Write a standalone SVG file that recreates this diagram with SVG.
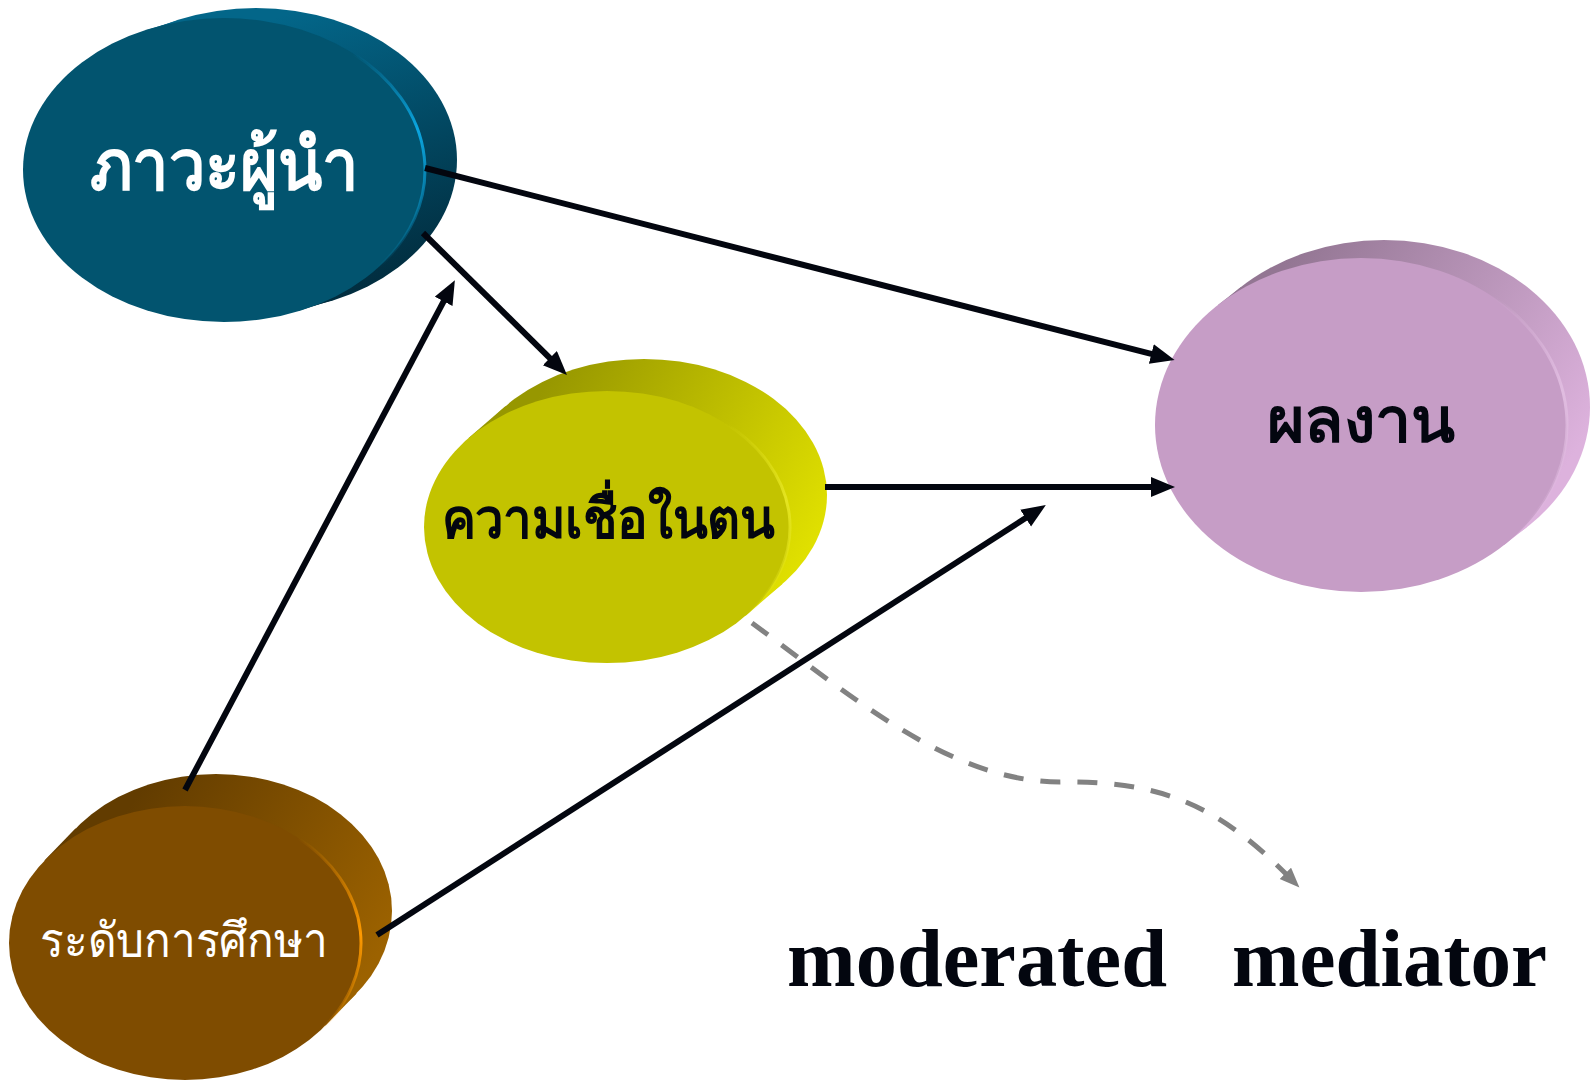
<svg xmlns="http://www.w3.org/2000/svg" width="1592" height="1080" viewBox="0 0 1592 1080">
<defs>
<style>
.th{font-family:"Noto Sans","DejaVu Sans",sans-serif;text-anchor:middle}
.b{font-weight:bold}
.rim{fill:none;stroke-width:3}
.conn{fill:none;stroke:#03060f;stroke-width:6}
.dash{fill:none;stroke:#828282;stroke-width:5;stroke-dasharray:20 17}
</style>
<marker id="ah" markerUnits="userSpaceOnUse" markerWidth="26" markerHeight="22" refX="11" refY="10" orient="auto">
<path d="M0,0 L24,10 L0,20 z" fill="#03060f"/>
</marker>
<marker id="ahg" markerUnits="userSpaceOnUse" markerWidth="22" markerHeight="18" refX="8" refY="8" orient="auto">
<path d="M0,0 L20,8 L0,16 z" fill="#828282"/>
</marker>
<linearGradient id="g1" gradientUnits="userSpaceOnUse" x1="300" y1="10" x2="400" y2="310">
<stop offset="0" stop-color="#036689"/><stop offset="1" stop-color="#012737"/>
</linearGradient>
<linearGradient id="g2" gradientUnits="userSpaceOnUse" x1="560" y1="360" x2="827" y2="520">
<stop offset="0" stop-color="#979700"/><stop offset="1" stop-color="#e0e000"/>
</linearGradient>
<linearGradient id="g3" gradientUnits="userSpaceOnUse" x1="1300" y1="240" x2="1590" y2="430">
<stop offset="0" stop-color="#937693"/><stop offset="1" stop-color="#ddb2dd"/>
</linearGradient>
<linearGradient id="g4" gradientUnits="userSpaceOnUse" x1="150" y1="775" x2="393" y2="930">
<stop offset="0" stop-color="#623c00"/><stop offset="1" stop-color="#9c6200"/>
</linearGradient>
<linearGradient id="r1" x1="0" y1="0" x2="0" y2="1">
<stop offset="0" stop-color="#0ba6e0" stop-opacity="0"/><stop offset="0.35" stop-color="#0ba6e0"/><stop offset="1" stop-color="#0ba6e0" stop-opacity="0"/>
</linearGradient>
<linearGradient id="r2" x1="0" y1="0" x2="0" y2="1">
<stop offset="0" stop-color="#e4e420" stop-opacity="0"/><stop offset="0.4" stop-color="#e4e420"/><stop offset="1" stop-color="#e4e420" stop-opacity="0"/>
</linearGradient>
<linearGradient id="r3" x1="0" y1="0" x2="0" y2="1">
<stop offset="0" stop-color="#e0bce0" stop-opacity="0"/><stop offset="0.4" stop-color="#e0bce0"/><stop offset="1" stop-color="#e0bce0" stop-opacity="0"/>
</linearGradient>
<linearGradient id="r4" x1="0" y1="0" x2="0" y2="1">
<stop offset="0" stop-color="#ff9a00" stop-opacity="0"/><stop offset="0.5" stop-color="#ff9a00"/><stop offset="1" stop-color="#ff9a00" stop-opacity="0"/>
</linearGradient>
</defs>
<rect width="1592" height="1080" fill="#ffffff"/>

<g id="node-leadership">
<ellipse cx="256" cy="160" rx="201" ry="152" fill="url(#g1)"/>
<polygon points="301,310 333,300 179,20 147,30" fill="url(#g1)"/>
<ellipse cx="224" cy="170" rx="201" ry="152" fill="#02546f"/>
<path class="rim" d="M353.2,53.6 A201,152 0 0 1 378,267.7" stroke="url(#r1)"/>
<text class="th b" x="224" y="190" font-size="72" fill="#ffffff" textLength="268" lengthAdjust="spacingAndGlyphs">ภาวะผู้นำ</text>
</g>

<g id="node-selfefficacy">
<ellipse cx="644" cy="495" rx="183" ry="136" fill="url(#g2)"/>
<polygon points="745.7,615.7 782.7,583.7 505.3,406.3 468.3,438.3" fill="url(#g2)"/>
<ellipse cx="607" cy="527" rx="183" ry="136" fill="#c3c300"/>
<path class="rim" d="M724.7,422.8 A183,136 0 0 1 747.2,614.4" stroke="url(#r2)"/>
<text class="th b" x="608" y="538" font-size="56" fill="#03060f" textLength="333" lengthAdjust="spacingAndGlyphs">ความเชื่อในตน</text>
</g>

<g id="node-performance">
<ellipse cx="1384" cy="407" rx="206" ry="167" fill="url(#g3)"/>
<polygon points="1504,545 1527,527 1241,287 1218,305" fill="url(#g3)"/>
<ellipse cx="1361" cy="425" rx="206" ry="167" fill="#c69dc6"/>
<path class="rim" d="M1493.5,297.1 A206,167 0 0 1 1518.8,532.4" stroke="url(#r3)"/>
<text class="th b" x="1361" y="442" font-size="62" fill="#03060f" textLength="188" lengthAdjust="spacingAndGlyphs">ผลงาน</text>
</g>

<g id="node-education">
<ellipse cx="216" cy="911" rx="176" ry="137" fill="url(#g4)"/>
<polygon points="325.6,1025.4 356.6,993.4 75.4,828.6 44.4,860.6" fill="url(#g4)"/>
<ellipse cx="185" cy="943" rx="176" ry="137" fill="#7f4c00"/>
<path class="rim" d="M298.2,838.1 A176,137 0 0 1 319.8,1031.1" stroke="url(#r4)"/>
<text class="th" x="184" y="957" font-size="48" fill="#ffffff" textLength="288" lengthAdjust="spacingAndGlyphs">ระดับการศึกษา</text>
</g>

<g id="connectors">
<line class="conn" x1="425" y1="168" x2="1162" y2="356.7" marker-end="url(#ah)"/>
<line class="conn" x1="423" y1="233" x2="557.7" y2="365.8" marker-end="url(#ah)"/>
<line class="conn" x1="825" y1="487" x2="1162" y2="487" stroke-width="4" marker-end="url(#ah)"/>
<line class="conn" x1="185" y1="790" x2="448.8" y2="291.7" marker-end="url(#ah)"/>
<line class="conn" x1="377" y1="935" x2="1034.9" y2="512.1" marker-end="url(#ah)"/>
<path class="dash" d="M752,623 C850,695 950,782 1060,782 C1170,780 1225,812 1291,879" marker-end="url(#ahg)"/>
</g>

<text id="label-moderated-mediator" font-family="'Liberation Serif',serif" font-weight="bold" font-size="82" fill="#03060f" y="986"><tspan x="787" textLength="380" lengthAdjust="spacingAndGlyphs">moderated</tspan><tspan x="1232" textLength="315" lengthAdjust="spacingAndGlyphs">mediator</tspan></text>
</svg>
